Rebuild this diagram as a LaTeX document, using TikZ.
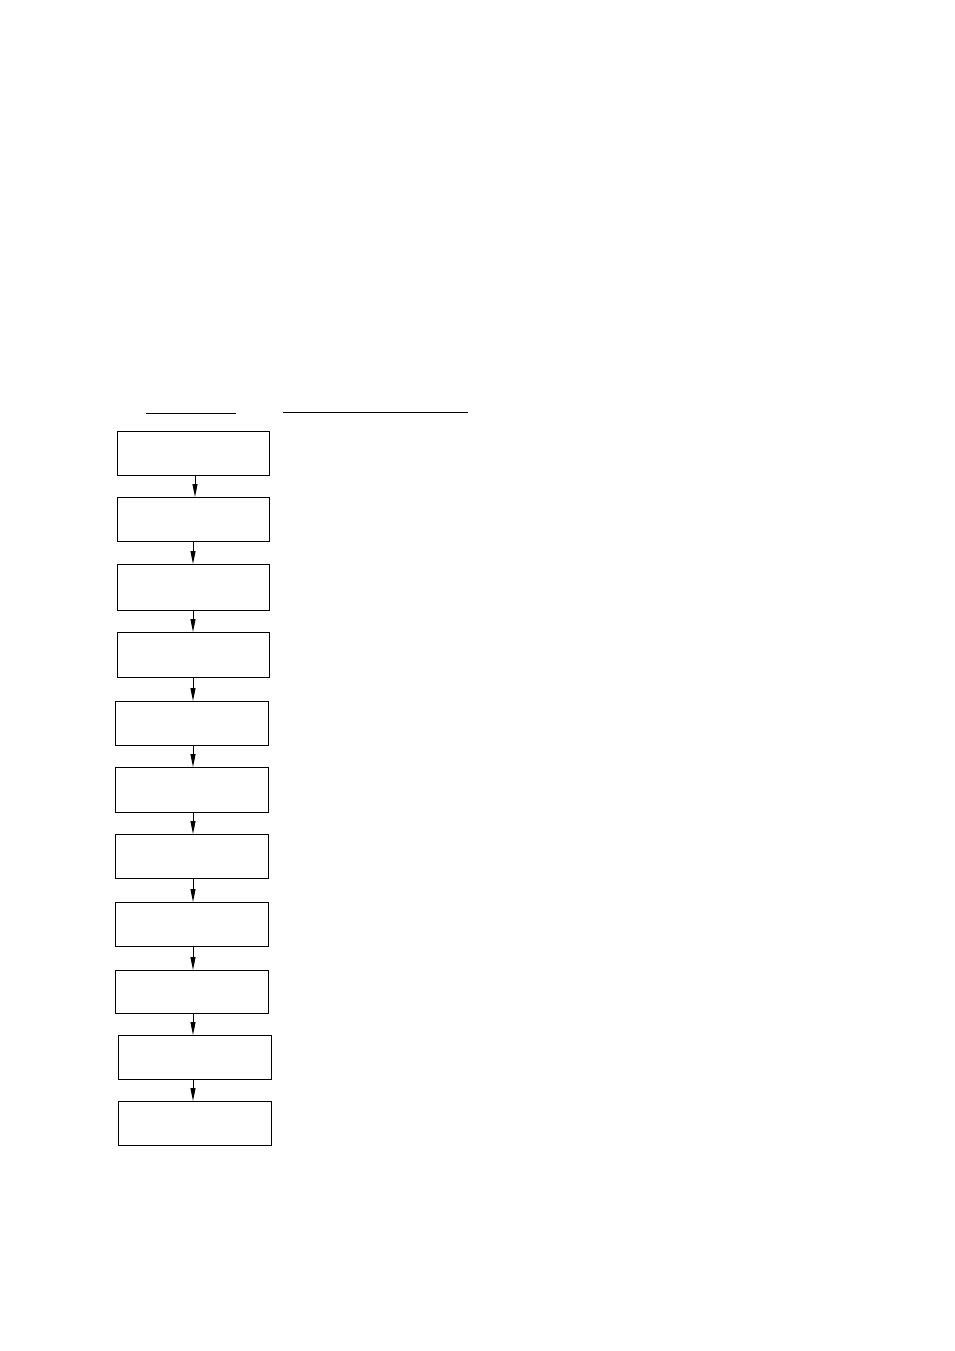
\documentclass[tikz,border=0pt]{standalone}
\usetikzlibrary{arrows.meta}
\begin{document}
\begin{tikzpicture}[x=1pt,y=-1pt,
  stepbox/.style={draw,line width=1pt,inner sep=0pt,outer sep=0pt,minimum width=152pt},
  flow/.style={line width=1pt,-{Triangle[length=13pt,width=5pt]}},
  rule/.style={line width=1pt}]
\useasboundingbox[fill=white] (0,0) rectangle (954,1351);
\draw[rule] (146,413) coordinate (l1a) -- (236,413) coordinate (l1b);
\draw[rule] (283,412) coordinate (l2a) -- (468,412) coordinate (l2b);
\node[stepbox,minimum height=44pt] (b1) at (193,453) {};
\node[stepbox,minimum height=44pt] (b2) at (193,519) {};
\node[stepbox,minimum height=46pt] (b3) at (193,587) {};
\node[stepbox,minimum height=45pt] (b4) at (193,654.5) {};
\node[stepbox,minimum width=153pt,minimum height=44pt] (b5) at (191.5,723) {};
\node[stepbox,minimum width=153pt,minimum height=45pt] (b6) at (191.5,789.5) {};
\node[stepbox,minimum width=153pt,minimum height=44pt] (b7) at (191.5,856) {};
\node[stepbox,minimum width=153pt,minimum height=44pt] (b8) at (191.5,924) {};
\node[stepbox,minimum width=153pt,minimum height=43pt] (b9) at (191.5,991.5) {};
\node[stepbox,minimum width=153pt,minimum height=44pt] (b10) at (194.5,1057) {};
\node[stepbox,minimum width=153pt,minimum height=44pt] (b11) at (194.5,1123) {};
\coordinate (ax1) at (195,0);
\coordinate (ax) at (193,0);
\draw[flow] (b1.south -| ax1) -- (b2.north -| ax1);
\draw[flow] (b2.south -| ax) -- (b3.north -| ax);
\draw[flow] (b3.south -| ax) -- (b4.north -| ax);
\draw[flow] (b4.south -| ax) -- (b5.north -| ax);
\draw[flow] (b5.south -| ax) -- (b6.north -| ax);
\draw[flow] (b6.south -| ax) -- (b7.north -| ax);
\draw[flow] (b7.south -| ax) -- (b8.north -| ax);
\draw[flow] (b8.south -| ax) -- (b9.north -| ax);
\draw[flow] (b9.south -| ax) -- (b10.north -| ax);
\draw[flow] (b10.south -| ax) -- (b11.north -| ax);
\end{tikzpicture}
\end{document}
